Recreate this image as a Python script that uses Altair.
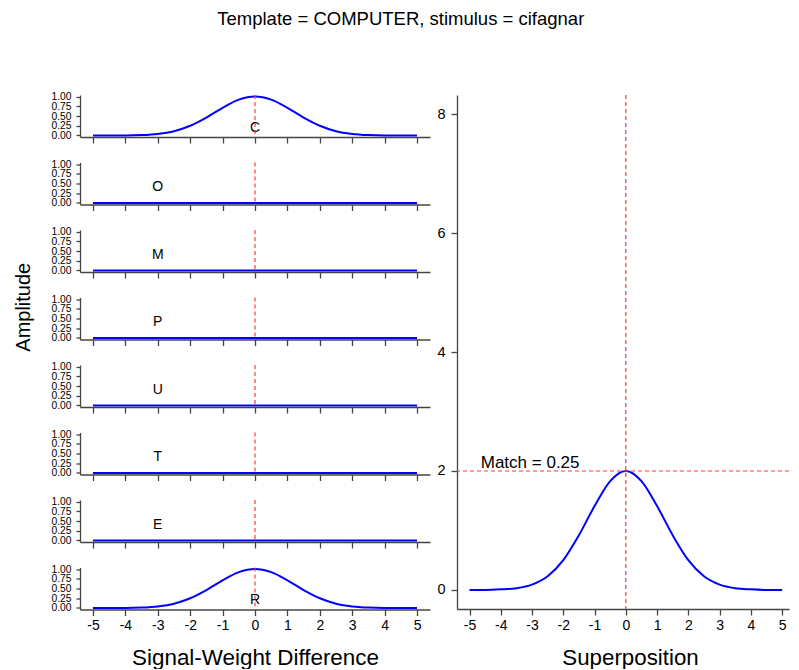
import altair as alt
import pandas as pd

# ---------------- data ----------------
x_vals = [-5.0, -4.5, -4.0, -3.5, -3.0, -2.5, -2.0, -1.5, -1.0, -0.5, 0.0,
          0.5, 1.0, 1.5, 2.0, 2.5, 3.0, 3.5, 4.0, 4.5, 5.0]

amp_C = [0.00, 0.00, 0.00, 0.01, 0.04, 0.11, 0.25, 0.46, 0.71, 0.92, 1.00,
         0.92, 0.71, 0.46, 0.25, 0.11, 0.04, 0.01, 0.00, 0.00, 0.00]
amp_O = [0.00, 0.00, 0.00, 0.00, 0.00, 0.00, 0.00, 0.00, 0.00, 0.00, 0.00,
         0.00, 0.00, 0.00, 0.00, 0.00, 0.00, 0.00, 0.00, 0.00, 0.00]
amp_M = [0.00, 0.00, 0.00, 0.00, 0.00, 0.00, 0.00, 0.00, 0.00, 0.00, 0.00,
         0.00, 0.00, 0.00, 0.00, 0.00, 0.00, 0.00, 0.00, 0.00, 0.00]
amp_P = [0.00, 0.00, 0.00, 0.00, 0.00, 0.00, 0.00, 0.00, 0.00, 0.00, 0.00,
         0.00, 0.00, 0.00, 0.00, 0.00, 0.00, 0.00, 0.00, 0.00, 0.00]
amp_U = [0.00, 0.00, 0.00, 0.00, 0.00, 0.00, 0.00, 0.00, 0.00, 0.00, 0.00,
         0.00, 0.00, 0.00, 0.00, 0.00, 0.00, 0.00, 0.00, 0.00, 0.00]
amp_T = [0.00, 0.00, 0.00, 0.00, 0.00, 0.00, 0.00, 0.00, 0.00, 0.00, 0.00,
         0.00, 0.00, 0.00, 0.00, 0.00, 0.00, 0.00, 0.00, 0.00, 0.00]
amp_E = [0.00, 0.00, 0.00, 0.00, 0.00, 0.00, 0.00, 0.00, 0.00, 0.00, 0.00,
         0.00, 0.00, 0.00, 0.00, 0.00, 0.00, 0.00, 0.00, 0.00, 0.00]
amp_R = [0.00, 0.00, 0.00, 0.01, 0.04, 0.11, 0.25, 0.46, 0.71, 0.92, 1.00,
         0.92, 0.71, 0.46, 0.25, 0.11, 0.04, 0.01, 0.00, 0.00, 0.00]

superposition = [0.00, 0.00, 0.01, 0.03, 0.09, 0.23, 0.50, 0.92, 1.41, 1.83, 2.00,
                 1.83, 1.41, 0.92, 0.50, 0.23, 0.09, 0.03, 0.01, 0.00, 0.00]

letters = ["C", "O", "M", "P", "U", "T", "E", "R"]
amplitudes = [amp_C, amp_O, amp_M, amp_P, amp_U, amp_T, amp_E, amp_R]
letter_x = [0, -3, -3, -3, -3, -3, -3, 0]
letter_y = [0.2, 0.4, 0.4, 0.4, 0.4, 0.4, 0.4, 0.2]

x_ticks = [-5, -4, -3, -2, -1, 0, 1, 2, 3, 4, 5]
amp_ticks = [0.0, 0.25, 0.5, 0.75, 1.0]
sup_ticks = [0, 2, 4, 6, 8]

match_value = 2
match_text = "Match = 0.25"
match_label_x = -4.64
main_title = "Template = COMPUTER, stimulus = cifagnar"

# ---------------- styling ----------------
FONT = "Liberation Sans"
BLUE = "#0000ff"
RED = "#ff3b3b"
AX = "#444444"
HYPHEN = "replace(datum.label, '\u2212', '-')"

small_x_scale = alt.Scale(domain=[-5.4, 5.4], nice=False, zero=False)
small_y_scale = alt.Scale(domain=[-0.04, 1.04], nice=False, zero=False)


def small_panel(i):
    last = i == len(letters) - 1
    df = pd.DataFrame({"x": x_vals, "y": amplitudes[i]})
    xkw = dict(values=x_ticks, tickCount=len(x_ticks), format="d", labelExpr=HYPHEN,
               tickSize=6, labels=last, grid=False, domainColor=AX, tickColor=AX,
               domainWidth=1.3, tickWidth=1.3, labelFontSize=14, labelPadding=3,
               labelColor="#000", labelOverlap=False)
    if last:
        xkw.update(title="Signal-Weight Difference", titleFontSize=22.4,
                   titleFontWeight="normal", titlePadding=14, titleColor="#000")
    else:
        xkw.update(title=None)
    ykw = dict(values=amp_ticks, tickCount=len(amp_ticks), format=".2f", tickSize=4,
               grid=False, title=None, domainColor=AX, tickColor=AX, domainWidth=1.3,
               tickWidth=1.3, labelFontSize=10.3, labelPadding=5, labelColor="#000",
               labelOverlap=False)
    line = alt.Chart(df).mark_line(color=BLUE, strokeWidth=2, interpolate="monotone").encode(
        x=alt.X("x:Q", scale=small_x_scale, axis=alt.Axis(**xkw)),
        y=alt.Y("y:Q", scale=small_y_scale, axis=alt.Axis(**ykw)),
    )
    lab = alt.Chart(pd.DataFrame({"x": [letter_x[i]], "y": [letter_y[i]], "t": [letters[i]]})).mark_text(
        fontSize=14, baseline="middle", align="center", color="#000"
    ).encode(x="x:Q", y="y:Q", text="t:N")
    rule = alt.Chart(pd.DataFrame({"x": [0]})).mark_rule(
        color=RED, strokeDash=[4, 3], strokeWidth=1.2
    ).encode(x="x:Q")
    return alt.layer(line, lab, rule).properties(width=350, height=42)


panels = [small_panel(i) for i in range(len(letters))]
left = alt.vconcat(*panels, spacing=25.5, bounds="flush").properties(
    title=alt.TitleParams("Amplitude", orient="left", fontSize=20, fontWeight="normal",
                          anchor="middle", frame="bounds", offset=17, dx=73, color="#000")
)

sup_df = pd.DataFrame({"x": x_vals, "y": superposition})
big_x_scale = alt.Scale(domain=[-5.4, 5.22], nice=False, zero=False)
big_y_scale = alt.Scale(domain=[-0.32, 8.32], nice=False, zero=False)

big_line = alt.Chart(sup_df).mark_line(color=BLUE, strokeWidth=2, interpolate="monotone").encode(
    x=alt.X("x:Q", scale=big_x_scale, axis=alt.Axis(
        values=x_ticks, tickCount=len(x_ticks), format="d", labelExpr=HYPHEN, tickSize=6,
        grid=False, domainColor=AX, tickColor=AX, domainWidth=1.3, tickWidth=1.3,
        labelFontSize=14, labelPadding=3, labelColor="#000", labelOverlap=False,
        title="Superposition", titleFontSize=22.3, titleFontWeight="normal", titlePadding=14,
        titleX=173, titleColor="#000")),
    y=alt.Y("y:Q", scale=big_y_scale, axis=alt.Axis(
        values=sup_ticks, tickCount=len(sup_ticks), format="d", tickSize=6, grid=False,
        domainColor=AX, tickColor=AX, domainWidth=1.3, tickWidth=1.3, labelFontSize=14.5,
        labelPadding=6, labelColor="#000", labelOverlap=False, title=None)),
)
big_vrule = alt.Chart(pd.DataFrame({"x": [0]})).mark_rule(
    color=RED, strokeDash=[4, 3], strokeWidth=1.2).encode(x="x:Q")
big_hrule = alt.Chart(pd.DataFrame({"y": [match_value]})).mark_rule(
    color=RED, strokeDash=[4, 3], strokeWidth=1.2).encode(y="y:Q")
big_label = alt.Chart(pd.DataFrame({"x": [match_label_x], "y": [match_value], "t": [match_text]})).mark_text(
    align="left", baseline="alphabetic", dy=-3, fontSize=17, color="#000"
).encode(x="x:Q", y="y:Q", text="t:N")

right = alt.layer(big_line, big_vrule, big_hrule, big_label).properties(width=332, height=514)

chart = alt.hconcat(left, right, spacing=6).properties(
    title=alt.TitleParams(main_title, fontSize=18.5, fontWeight="normal", anchor="middle",
                          frame="bounds", offset=63, dx=-1, color="#000"),
    padding={"left": 5, "top": 2, "right": 0, "bottom": 0},
).configure(font=FONT).configure_view(stroke=None)

chart.save("out.html", embed_options={"renderer": "svg", "actions": False})
